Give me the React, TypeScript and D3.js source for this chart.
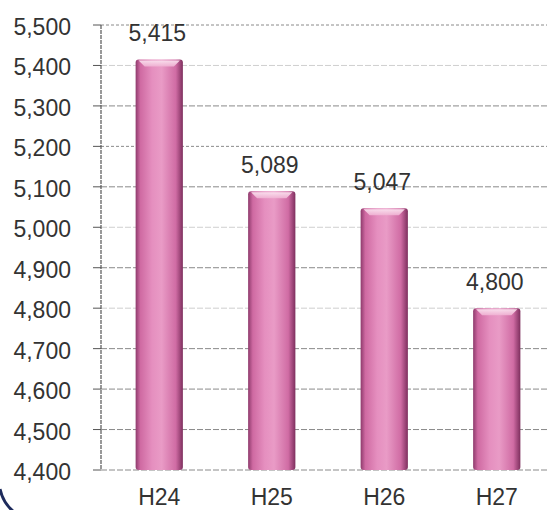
import React from "react";
import * as d3 from "d3";

const categories: string[] = ["H24", "H25", "H26", "H27"];
const values: number[] = [5415, 5089, 5047, 4800];
const yTicks: number[] = [4400, 4500, 4600, 4700, 4800, 4900, 5000, 5100, 5200, 5300, 5400, 5500];

const W = 547;
const H = 510;
const lightTicks = new Set([5400, 5000, 4800]);

export default function App() {
  const x = d3.scaleBand<string>().domain(categories).range([103, 553]).paddingInner(0.58).paddingOuter(0.29);
  const y = d3.scaleLinear().domain([4400, 5500]).range([470, 25]);
  const fmt = d3.format(",");
  const font = "'Liberation Sans', Arial, sans-serif";
  const axisX = 101;

  return (
    <svg width={W} height={H} style={{ position: "absolute", left: 0, top: 0, background: "#fff" }}>
      <defs>
        <linearGradient id="barGrad" x1="0" x2="1" y1="0" y2="0">
          <stop offset="0%" stopColor="#8e3a6c" />
          <stop offset="10%" stopColor="#cf6aa2" />
          <stop offset="35%" stopColor="#e58fbf" />
          <stop offset="55%" stopColor="#e99bc6" />
          <stop offset="85%" stopColor="#d06ca4" />
          <stop offset="100%" stopColor="#7e2f5e" />
        </linearGradient>
        <linearGradient id="capGrad" x1="0" x2="0" y1="0" y2="1">
          <stop offset="0%" stopColor="#fbe6f1" />
          <stop offset="100%" stopColor="#f0b4d4" />
        </linearGradient>
      </defs>

      {/* gridlines */}
      {yTicks.map((t) => (
        <line
          key={"g" + t}
          x1={axisX}
          x2={W}
          y1={y(t)}
          y2={y(t)}
          stroke={lightTicks.has(t) ? "#cfcfcf" : "#8a8a8a"}
          strokeWidth={1}
          strokeDasharray={t === 5500 || t === 5200 ? "3,2" : "6,2"}
        />
      ))}

      {/* axis */}
      <line x1={axisX} x2={axisX} y1={y(5500)} y2={y(4400)} stroke="#555" strokeWidth={1.2} strokeDasharray="4,1" />
      {yTicks.map((t) => (
        <line key={"t" + t} x1={axisX - 8} x2={axisX} y1={y(t)} y2={y(t)} stroke="#555" strokeWidth={1} />
      ))}

      {/* tick labels */}
      {yTicks.map((t) => (
        <text
          key={"l" + t}
          x={71}
          y={y(t) + 10}
          textAnchor="end"
          fontFamily={font}
          fontSize={23}
          fill="#333"
        >
          {fmt(t)}
        </text>
      ))}

      {/* bars */}
      {categories.map((c, i) => {
        const bx = x(c)!;
        const bw = x.bandwidth();
        const top = y(values[i]);
        const bottom = y(4400);
        const cap = 7;
        return (
          <g key={"b" + c}>
            <rect x={bx} y={top} width={bw} height={bottom - top} rx={3} fill="url(#barGrad)" />
            <path
              d={`M${bx + 3},${top + 1} L${bx + bw - 3},${top + 1} L${bx + bw - 9},${top + cap} L${bx + 9},${top + cap} Z`}
              fill="url(#capGrad)"
              opacity={0.9}
            />
            <text
              x={bx + bw / 2 - 2}
              y={top - 18}
              textAnchor="middle"
              fontFamily={font}
              fontSize={23}
              fill="#333"
            >
              {fmt(values[i])}
            </text>
            <text
              x={bx + bw / 2}
              y={505}
              textAnchor="middle"
              fontFamily={font}
              fontSize={23}
              fill="#333"
            >
              {c}
            </text>
          </g>
        );
      })}

      {/* frame corner */}
      <path d="M0,489 Q3,503 14,512" fill="none" stroke="#1e2b5c" strokeWidth={3} />
    </svg>
  );
}
